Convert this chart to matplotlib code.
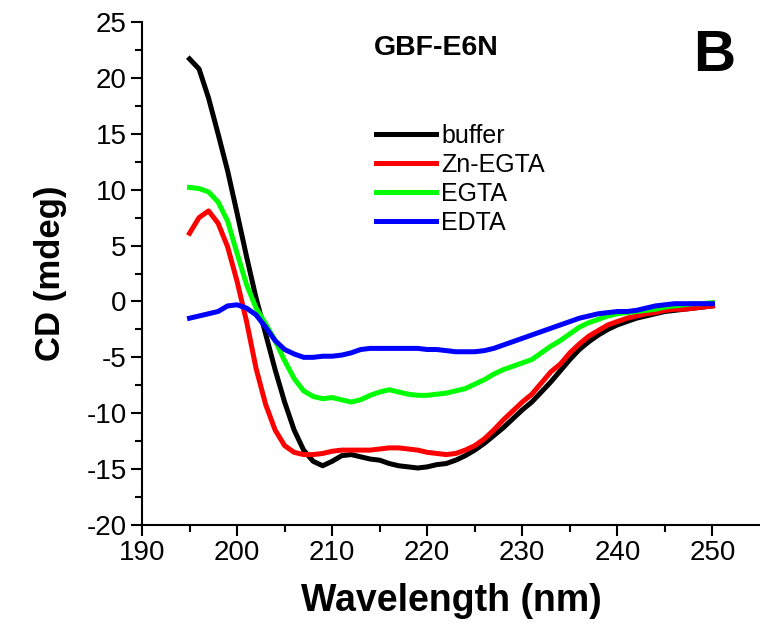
import matplotlib
matplotlib.use("Agg")
import matplotlib.pyplot as plt
import numpy as np

plt.rcParams['font.family'] = ['Liberation Sans', 'DejaVu Sans']
plt.rcParams['axes.unicode_minus'] = False

# wavelength grid (nm), 1 nm steps
wavelength = np.arange(195, 251)

buffer_cd = [21.7, 20.8, 18.2, 15.0, 11.7, 7.9, 4.0, 0.3, -2.9, -6.1,
             -9.0, -11.5, -13.3, -14.3, -14.7, -14.3, -13.8, -13.7, -13.9, -14.1,
             -14.2, -14.5, -14.7, -14.8, -14.9, -14.8, -14.6, -14.5, -14.2, -13.8,
             -13.3, -12.7, -12.0, -11.3, -10.5, -9.7, -9.0, -8.1, -7.2, -6.2,
             -5.2, -4.3, -3.6, -3.0, -2.5, -2.1, -1.8, -1.5, -1.3, -1.1,
             -0.9, -0.8, -0.7, -0.6, -0.5, -0.4]
zn_egta_cd = [6.1, 7.5, 8.1, 7.0, 4.9, 1.8, -1.8, -6.0, -9.2, -11.5,
              -12.9, -13.5, -13.7, -13.7, -13.6, -13.4, -13.3, -13.3, -13.3, -13.3,
              -13.2, -13.1, -13.1, -13.2, -13.3, -13.5, -13.6, -13.7, -13.6, -13.3,
              -12.9, -12.3, -11.5, -10.6, -9.8, -9.0, -8.3, -7.3, -6.3, -5.6,
              -4.6, -3.8, -3.1, -2.6, -2.1, -1.8, -1.5, -1.3, -1.1, -1.0,
              -0.8, -0.7, -0.7, -0.6, -0.5, -0.4]
egta_cd = [10.2, 10.1, 9.8, 8.9, 7.2, 4.3, 1.5, -0.6, -2.0, -3.5,
           -5.3, -6.9, -8.0, -8.5, -8.7, -8.6, -8.8, -9.0, -8.8, -8.4,
           -8.1, -7.9, -8.1, -8.3, -8.4, -8.4, -8.3, -8.2, -8.0, -7.8,
           -7.4, -7.0, -6.5, -6.1, -5.8, -5.5, -5.2, -4.6, -4.0, -3.5,
           -2.9, -2.3, -1.9, -1.6, -1.3, -1.1, -1.0, -0.9, -0.8, -0.7,
           -0.5, -0.4, -0.3, -0.2, -0.2, -0.1]
edta_cd = [-1.5, -1.3, -1.1, -0.9, -0.4, -0.3, -0.6, -1.2, -2.3, -3.5,
           -4.3, -4.7, -5.0, -5.0, -4.9, -4.9, -4.8, -4.6, -4.3, -4.2,
           -4.2, -4.2, -4.2, -4.2, -4.2, -4.3, -4.3, -4.4, -4.5, -4.5,
           -4.5, -4.4, -4.2, -3.9, -3.6, -3.3, -3.0, -2.7, -2.4, -2.1,
           -1.8, -1.5, -1.3, -1.1, -1.0, -0.9, -0.9, -0.8, -0.6, -0.4,
           -0.3, -0.2, -0.2, -0.2, -0.2, -0.2]

labels = ['buffer', 'Zn-EGTA', 'EGTA', 'EDTA']
colors = ['black', '#ff0000', '#00ff00', '#0000ff']

fig = plt.figure(figsize=(7.6, 6.29), dpi=100)
ax = fig.add_axes([142 / 760, 104 / 629, 618 / 760, 503 / 629])

for ys, lab, c in zip([buffer_cd, zn_egta_cd, egta_cd, edta_cd], labels, colors):
    ax.plot(wavelength, ys, color=c, linewidth=3.6, label=lab,
            solid_joinstyle='round')

ax.set_xlim(190, 255)
ax.set_ylim(-20, 25)
ax.set_xticks(np.arange(190, 251, 10))
ax.set_xticks(np.arange(195, 255, 10), minor=True)
ax.set_yticks(np.arange(-20, 26, 5))
ax.set_yticks(np.arange(-17.5, 25, 5), minor=True)

ax.spines['top'].set_visible(False)
ax.spines['right'].set_visible(False)
for s in ['left', 'bottom']:
    ax.spines[s].set_linewidth(1.5)
ax.tick_params(which='major', direction='out', length=8, width=1.5, labelsize=20, pad=3)
ax.tick_params(which='minor', direction='out', length=5, width=1.5)

ax.set_xlabel('Wavelength (nm)', fontsize=27, fontweight='bold', labelpad=12)
ax.set_ylabel('CD (mdeg)', fontsize=25, fontweight='bold', labelpad=14)

fig.text(436 / 760, 1 - 48 / 629, 'GBF-E6N', fontsize=20.5, fontweight='bold',
         ha='center', va='center')
fig.text(714 / 760, 1 - 56 / 629, 'B', fontsize=42, fontweight='bold',
         ha='center', va='center')

ax.legend(loc='upper left', bbox_to_anchor=(376 / 760, 1 - 124 / 629),
          bbox_transform=fig.transFigure, frameon=False, fontsize=18,
          handlelength=2.4, handletextpad=0.2, labelspacing=0.2,
          borderpad=0, borderaxespad=0)

fig.savefig('out.png', dpi=100)
